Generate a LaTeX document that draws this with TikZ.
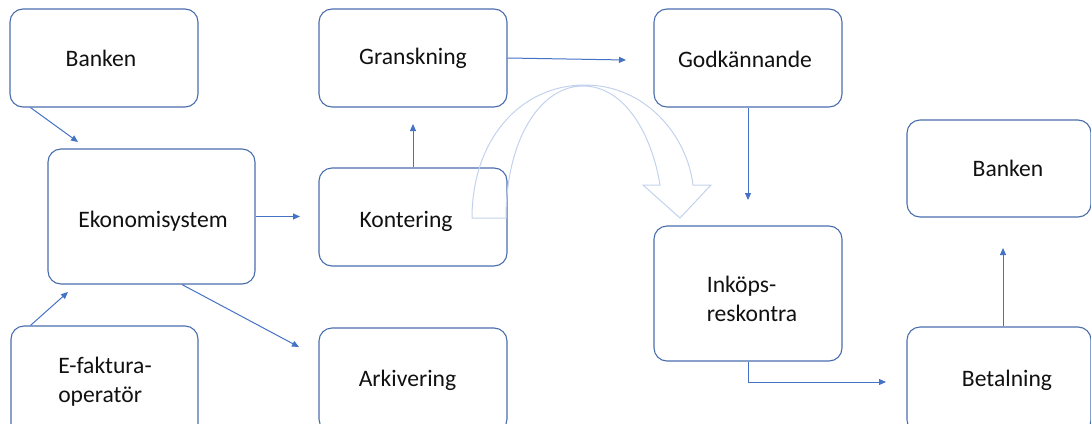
\documentclass[tikz,border=0pt]{standalone}
\usepackage{fontspec}
\setmainfont{Carlito}
\usetikzlibrary{arrows.meta}
\definecolor{boxc}{HTML}{4A6EAD}
\definecolor{arrc}{HTML}{4472C4}
\definecolor{bigarr}{HTML}{C3D2EC}
\definecolor{txt}{HTML}{111111}
\begin{document}
\begin{tikzpicture}[x=1pt,y=-1pt,
  box/.style={draw=boxc, line width=1.1pt, rounded corners=13pt, inner sep=0pt},
  lbl/.style={text=txt, font=\fontsize{23.6}{29}\selectfont, align=left, inner sep=0pt},
  arr/.style={draw=arrc, line width=1pt, -{Triangle[length=7pt,width=6pt]}},
  bigarrow/.style={draw=bigarr, line width=1pt, line join=miter}]
\useasboundingbox (0,0) rectangle (1091,423);
\clip (0,0) rectangle (1091,423);

% boxes
\node[box, minimum width=188pt, minimum height=98pt] (bank1) at (104,58) {};
\node[box, minimum width=207pt, minimum height=135pt] (eko) at (151.5,216.5) {};
\node[box, minimum width=187pt, minimum height=113pt] (efak) at (104.5,382.5) {};
\node[box, minimum width=188pt, minimum height=98pt] (gran) at (413,58) {};
\node[box, minimum width=188pt, minimum height=98pt] (kont) at (413,217) {};
\node[box, minimum width=188pt, minimum height=104pt] (arkiv) at (413,380) {};
\node[box, minimum width=188pt, minimum height=98pt] (godk) at (748,58) {};
\node[box, minimum width=188pt, minimum height=135pt] (inkop) at (748,293.5) {};
\node[box, minimum width=184pt, minimum height=97pt] (bank2) at (999,168.5) {};
\node[box, minimum width=184pt, minimum height=106pt] (betal) at (999,380) {};

% labels
\node[lbl] (tbank1) at (101,58) {Banken};
\node[lbl] (teko) at (153,221) {Ekonomisystem};
\node[lbl] (tefak) at (105,382) {E-faktura-\\operatör};
\node[lbl] (tgran) at (413,58) {Granskning};
\node[lbl] (tkont) at (406,221) {Kontering};
\node[lbl] (tarkiv) at (407.5,380) {Arkivering};
\node[lbl] (tgodk) at (745,59) {Godkännande};
\node[lbl] (tinkop) at (752,299) {Inköps-\\reskontra};
\node[lbl] (tbank2) at (1008,168) {Banken};
\node[lbl] (tbetal) at (1007,380) {Betalning};

% free ends
\coordinate (e1) at (78,142);
\coordinate (e2) at (68,292);
\coordinate (e3) at (300,216.5);
\coordinate (e4) at (299,347);
\coordinate (e5) at (413,124);
\coordinate (e6) at (626,60);
\coordinate (e7) at (748,200);
\coordinate (e8) at (886,382);
\coordinate (e9) at (1003,248);

% connectors
\draw[arr] ([xshift=21pt]bank1.south west) -- (e1);
\draw[arr] ([xshift=20pt]efak.north west) -- (e2);
\draw[arr] (eko.east) -- (e3);
\draw[arr] ([xshift=30.5pt]eko.south) -- (e4);
\draw[arr] (kont.north) -- (e5);
\draw[arr] (gran.east) -- (e6);
\draw[arr] (godk.south) -- (e7);
\draw[arr] (inkop.south) |- (e8);
\draw[arr] ([xshift=4pt]betal.north) -- (e9);

% curved block arrow
\draw[bigarrow] (472,218)
  .. controls (472,140) and (520,85) .. (585,85)
  .. controls (645,85) and (687,135) .. (693,185)
  -- (711,185) -- (680,218) -- (643,185) -- (660,185)
  .. controls (652,135) and (625,86) .. (583,86)
  .. controls (540,86) and (506,140) .. (506,218)
  -- cycle;
\end{tikzpicture}
\end{document}
